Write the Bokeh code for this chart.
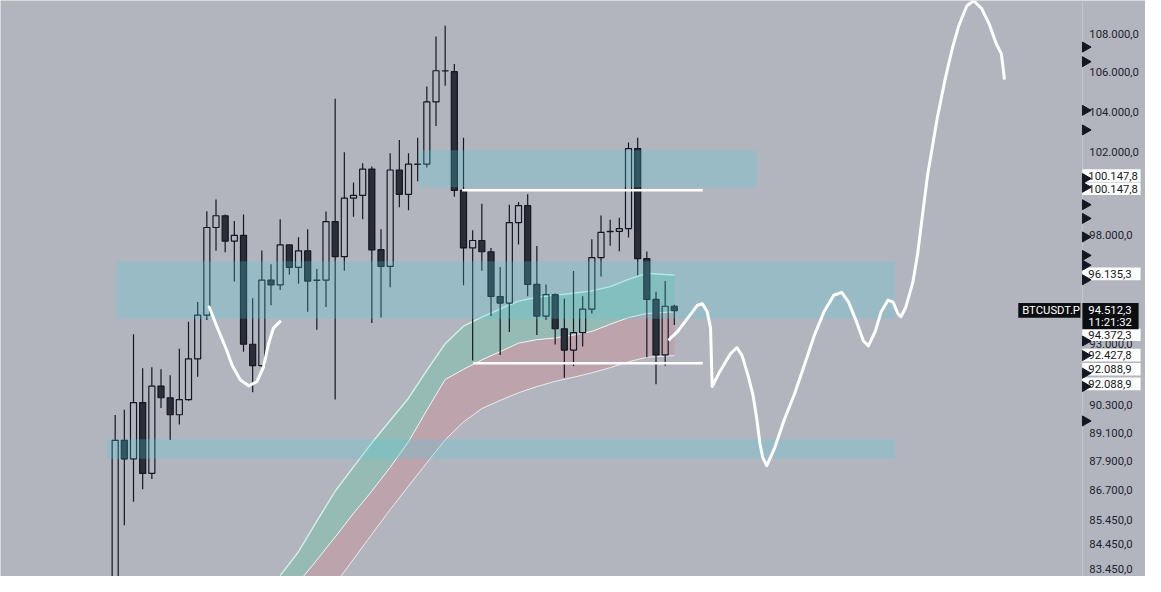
import numpy as np
from bokeh.plotting import figure
from bokeh.models import Range1d, LinearScale
from bokeh.core.properties import value
from bokeh.embed import file_html
from bokeh.resources import INLINE

# ---------------- data ----------------
opens = [82000, 88790, 88000, 90415, 87382, 91137, 90627, 89888, 90542, 92341,
         94309, 98371, 98930, 97730, 98003, 92993, 92037, 95911, 95689, 97547,
         96498, 97274, 95911, 95911, 98650, 96998, 99769, 99908, 101180, 97333,
         96544, 101133, 99955, 101410, 101419, 104505, 106085, 106035, 100141, 97410,
         97757, 97228, 95155, 94857, 98604, 99410, 95715, 94265, 95244, 93689,
         92732, 93515, 94576, 96954, 98176, 98186, 98322, 102182, 96909, 95021,
         92515, 94710]
highs = [89875, 90100, 93442, 91919, 91963, 91876, 91618, 92789, 94011, 94901,
         99144, 99703, 98990, 98678, 98990, 95079, 97287, 96649, 98757, 97560,
         97912, 98290, 96421, 99130, 104667, 102006, 100528, 101467, 101304, 98290,
         101958, 102611, 101958, 102721, 105288, 107850, 108415, 106435, 102721, 98245,
         99503, 97410, 96512, 99456, 99582, 99955, 97502, 95702, 95288, 95048,
         96330, 95168, 97821, 98944, 98743, 98836, 102483, 102721, 97242, 95377,
         95867, 94784]
lows = [80900, 85227, 86195, 86722, 87151, 90185, 88802, 89466, 90500, 91545,
        94087, 97274, 97210, 95849, 92659, 90865, 92005, 94754, 95457, 96161,
        95747, 94456, 93646, 94678, 90555, 96343, 98883, 98757, 93944, 94202,
        95582, 99331, 99191, 100589, 101257, 103298, 105317, 99843, 95671, 92267,
        96343, 94265, 92515, 93542, 97574, 95168, 93411, 94100, 92976, 91503,
        92019, 92889, 94380, 96072, 97516, 97255, 97894, 96135, 92411, 91222,
        92036, 93864]
closes = [88790, 88001, 90415, 87382, 91137, 90627, 89888, 90542, 92341, 94309,
          98371, 98930, 97730, 98003, 92993, 92037, 95911, 95689, 97547, 96498,
          97274, 95867, 95900, 98650, 96998, 99769, 99908, 101180, 97319, 96544,
          101133, 99955, 101419, 101420, 104505, 106085, 106080, 100141, 97410, 97757,
          97228, 95155, 94857, 98604, 99410, 95715, 94265, 95244, 93689, 92732,
          93515, 94576, 96954, 98140, 98186, 98322, 102182, 96909, 95021, 92515,
          94710, 94512.3]

# moving-average ribbon (bar index, three bands)
ribbon_bars = [18, 20, 22, 24, 26, 28, 30, 32, 34, 36, 38, 40, 42, 44, 46, 48,
               50, 52, 54, 56, 58, 60, 61]
ribbon_upper = [83187, 84150, 85397, 86637, 87657, 88682, 89641, 90606, 91832, 93015,
                93803, 94211, 94585, 94946, 95119, 95221, 95306, 95413, 95609, 95947,
                96225, 96170, 96149]
ribbon_mid = [82034, 82920, 83813, 84748, 85717, 86645, 87640, 88728, 90088, 91426,
              91876, 92293, 92663, 93041, 93198, 93276, 93407, 93568, 93891, 94193,
              94380, 94433, 94456]
ribbon_lower = [79915, 80882, 81860, 82850, 83849, 84863, 85875, 86856, 87831, 88811,
                89578, 90156, 90512, 90844, 91116, 91346, 91528, 91719, 91949, 92210,
                92411, 92463, 92485]

# drawn zones (bar index / price)
zone_left = [33.1, 0.1, -0.9]
zone_right = [70.0, 85.1, 85.1]
zone_top = [102101, 96786, 88832]
zone_bottom = [100295, 94145, 88002]

# horizontal levels
level_price = [100147.8, 92150]
level_start = [37.85, 39.05]
level_end = [64.1, 64.1]

# free-hand projection curves
curve1_bar = [10.26, 11.16, 12.05, 12.77, 13.66, 14.57, 15.46, 16.18, 16.72, 17.26, 17.97]
curve1_price = [94678, 93716, 92846, 92050, 91405, 91150, 91333, 91976, 92993, 93716, 94011]
curve2_bar = [60.46, 61.37, 62.44, 63.52, 64.06, 64.59, 64.95, 65.02, 65.13, 65.84,
              67.1, 67.82, 68.39, 69.03, 69.57, 70.0, 70.33, 70.65, 71.08, 71.94,
              73.02, 74.09, 75.17, 76.24, 77.32, 78.4, 79.26, 80.01, 80.87, 81.63,
              82.17, 82.92, 83.56, 84.32, 84.86, 85.4, 85.72, 86.26, 87.01, 87.55,
              88.08, 88.62, 89.16, 89.7, 90.56, 91.31, 92.06, 92.92, 93.67, 94.53,
              95.39, 96.14, 96.68, 97.0]
curve2_price = [93211, 93572, 94158, 94754, 94825, 94456, 93716, 92702, 91120, 91688,
                92558, 92846, 92485, 91618, 90768, 89707, 88666, 88044, 87712, 88458,
                89707, 90768, 92050, 93355, 94456, 95213, 95346, 94901, 94011, 93137,
                92920, 93572, 94456, 94990, 94901, 94367, 94234, 94678, 95791, 97150,
                98990, 100861, 102292, 103738, 105698, 107200, 108450, 109460, 109720, 109310,
                108450, 107450, 106950, 105700]

# price scale
tick_prices = [108000, 106000, 104000, 102000, 98000, 93000, 90300, 89100, 87900,
               86700, 85450, 84450, 83450]
tick_labels = ["108.000,0", "106.000,0", "104.000,0", "102.000,0", "98.000,0",
               "93.000,0", "90.300,0", "89.100,0", "87.900,0", "86.700,0",
               "85.450,0", "84.450,0", "83.450,0"]
alert_prices = [107300, 106550, 104080, 103104, 100716, 100295, 99456, 98804, 97926,
                97059, 96603, 95925, 93137, 92485, 91703, 91118, 89622]

# price tags (stacked on the scale, reference-pixel rows)
tag_texts = ["100.147,8", "100.147,8", "96.135,3", "94.372,3", "92.427,8", "92.088,9", "92.088,9"]
tag_rows = [180, 193.5, 281, 343.5, 364.5, 379, 394]
last_price_text = "94.512,3"
countdown_text = "11:21:32"
symbol_text = "BTCUSDT.P"

# ---------------- figure ----------------
W, H = 1145, 576
REF_W, REF_H = 1161, 592

BG = "#b2b5be"
CAND = "#131722"
FONT = value("Roboto")
FS = "11.3px"

p = figure(width=W, height=H,
           x_range=Range1d(-12.51, 112.4), y_range=Range1d(83152, 109735),
           y_axis_type="log", x_axis_location=None, y_axis_location=None,
           toolbar_location=None, output_backend="svg", min_border=0,
           background_fill_color=BG, border_fill_color=BG, outline_line_color=None)
p.extra_x_ranges = {"px": Range1d(0, REF_W)}
p.extra_y_ranges = {"px": Range1d(REF_H, 0)}
p.extra_x_scales = {"px": LinearScale()}
p.extra_y_scales = {"px": LinearScale()}
p.grid.visible = False

# ribbon
p.varea(x=ribbon_bars, y1=ribbon_upper, y2=ribbon_mid, fill_color="#46c995", fill_alpha=0.26)
p.varea(x=ribbon_bars, y1=ribbon_mid, y2=ribbon_lower, fill_color="#e0646e", fill_alpha=0.22)
p.line(ribbon_bars, ribbon_upper, line_color="#d2f2e6", line_width=1.4)
p.line(ribbon_bars, ribbon_mid, line_color="#f4f6f8", line_width=1.0)
p.line(ribbon_bars, ribbon_lower, line_color="#f4f6f8", line_width=1.0, line_alpha=0.85)

# candles
o = np.array(opens, dtype=float)
h = np.array(highs, dtype=float)
l = np.array(lows, dtype=float)
c = np.array(closes, dtype=float)
bars = np.arange(len(o))
btop = np.maximum(o, c)
bbot = np.minimum(o, c)
up = c >= o
p.segment(x0=bars, y0=h, x1=bars, y1=btop, line_color=CAND, line_width=1.2)
p.segment(x0=bars, y0=bbot, x1=bars, y1=l, line_color=CAND, line_width=1.2)
p.vbar(x=bars[up], width=0.66, top=btop[up], bottom=bbot[up],
       fill_color=None, line_color=CAND, line_width=1.2)
p.vbar(x=bars[~up], width=0.66, top=btop[~up], bottom=bbot[~up],
       fill_color="#2a2e39", line_color=CAND, line_width=1.2)

# zones
p.quad(left=zone_left, right=zone_right, top=zone_top, bottom=zone_bottom,
       fill_color="#4dd0e1", fill_alpha=0.25, line_color=None)

# levels
p.segment(x0=level_start, y0=level_price, x1=level_end, y1=level_price,
          line_color="white", line_width=2.5)

# projection curves
for xs, ys in ((curve1_bar, curve1_price), (curve2_bar, curve2_price)):
    p.line(xs, ys, line_color="white", line_width=3, line_join="round", line_cap="round")

# price scale separator
p.segment(x0=[1097], y0=[0], x1=[1097], y1=[REF_H], x_range_name="px", y_range_name="px",
          line_color="#c4c7cf", line_width=1)

# tick labels
p.text(x=[1104] * len(tick_prices), y=tick_prices, text=tick_labels, x_range_name="px",
       text_font=FONT, text_font_size=FS, text_color="#1e222d",
       text_align="left", text_baseline="middle")

# price tags
tag_h = 13
p.quad(left=[1097] * len(tag_rows), right=[1156] * len(tag_rows),
       top=[r - tag_h / 2 for r in tag_rows], bottom=[r + tag_h / 2 for r in tag_rows],
       x_range_name="px", y_range_name="px", fill_color="white", line_color=None)
p.text(x=[1103] * len(tag_rows), y=tag_rows, text=tag_texts, x_range_name="px", y_range_name="px",
       text_font=FONT, text_font_size=FS, text_color="#131722",
       text_align="left", text_baseline="middle")

# last price box + symbol box
p.quad(left=[1097], right=[1154], top=[311], bottom=[338], x_range_name="px", y_range_name="px",
       fill_color="#0c0d10", line_color=None)
p.text(x=[1103, 1103], y=[318, 331], text=[last_price_text, countdown_text],
       x_range_name="px", y_range_name="px", text_font=FONT, text_font_size=FS,
       text_color="white", text_align="left", text_baseline="middle")
p.quad(left=[1032], right=[1095], top=[311], bottom=[326], x_range_name="px", y_range_name="px",
       fill_color="#0c0d10", line_color=None)
p.text(x=[1036], y=[318.5], text=[symbol_text], x_range_name="px", y_range_name="px",
       text_font=FONT, text_font_size=FS, text_color="white",
       text_align="left", text_baseline="middle")

# alert markers
p.scatter(x=[1100] * len(alert_prices), y=alert_prices, x_range_name="px",
          marker="triangle", angle=-np.pi / 2, size=10, fill_color=CAND, line_color=CAND)

open("out.html", "w").write(file_html(p, INLINE))
